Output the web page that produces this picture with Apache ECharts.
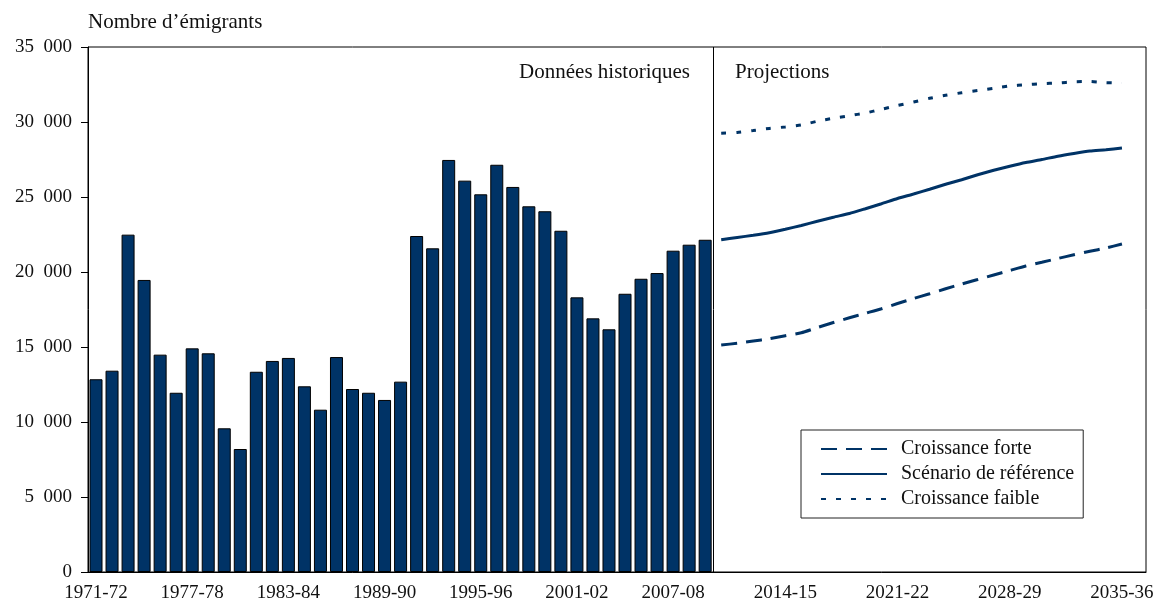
<!DOCTYPE html>
<html>
<head>
<meta charset="utf-8">
<script src="https://cdn.jsdelivr.net/npm/echarts@6/dist/echarts.min.js"></script>
<style>
  html, body { margin: 0; padding: 0; background: #fff; }
  #chart { width: 1159px; height: 609px; }
</style>
</head>
<body>
<div id="chart"></div>
<script>
// années : 1971-72 ... 2036-37
const years = [];
for (let y = 1971; y <= 2036; y++) {
  years.push(y + '-' + String((y + 1) % 100).padStart(2, '0'));
}
const shownLabels = ['1971-72', '1977-78', '1983-84', '1989-90', '1995-96', '2001-02',
  '2007-08', '2014-15', '2021-22', '2028-29', '2035-36'];

// données historiques 1971-72 à 2009-10
const historique = [12850, 13420, 22490, 19470, 14490, 11950, 14910, 14580, 9580, 8200,
  13350, 14070, 14270, 12380, 10820, 14330, 12200, 11950, 11470, 12690,
  22400, 21580, 27470, 26090, 25180, 27150, 25670, 24380, 24050, 22750,
  18310, 16910, 16180, 18550, 19550, 19930, 21420, 21820, 22150];

// projections 2010-11 à 2035-36
const forte = [15130, 15250, 15400, 15550, 15750, 15950, 16300, 16630, 16950, 17250,
  17550, 17900, 18230, 18550, 18880, 19200, 19500, 19800, 20100, 20400,
  20650, 20900, 21150, 21380, 21600, 21870];
const reference = [22150, 22300, 22450, 22620, 22850, 23100, 23380, 23650, 23900, 24220,
  24550, 24900, 25200, 25520, 25850, 26150, 26480, 26780, 27050, 27300,
  27500, 27720, 27900, 28060, 28150, 28270];
const faible = [29250, 29300, 29430, 29570, 29670, 29800, 30050, 30250, 30420, 30600,
  30850, 31100, 31330, 31580, 31780, 31950, 32100, 32250, 32400, 32480,
  32560, 32600, 32680, 32700, 32620, 32600];

const navy = '#003366';
const serif = '"Liberation Serif", "DejaVu Serif", serif';

const debut = historique.length; // premier indice des projections
const pad = arr => years.map((_, i) => (i >= debut && i - debut < arr.length) ? arr[i - debut] : null);

const chart = echarts.init(document.getElementById('chart'));

chart.setOption({
  backgroundColor: '#fff',
  animation: false,
  textStyle: { fontFamily: serif },
  grid: {
    left: 88, right: 13, top: 47, bottom: 37,
    show: true, borderColor: '#000', borderWidth: 1
  },
  legend: {
    data: ['Croissance forte', 'Scénario de référence', 'Croissance faible'],
    orient: 'vertical',
    left: 801, top: 430,
    padding: [9, 9, 9, 19],
    itemGap: 5,
    itemWidth: 66,
    itemHeight: 14,
    borderColor: '#222',
    borderWidth: 1,
    itemStyle: { opacity: 0 }, // pas de symbole dans la légende
    textStyle: { fontFamily: serif, fontSize: 20, color: '#111', padding: [0, 0, 0, 9] }
  },
  xAxis: {
    type: 'category',
    data: years,
    boundaryGap: true,
    axisLine: { lineStyle: { color: '#000', width: 1 } },
    axisTick: { interval: 0, length: 5, lineStyle: { color: '#000' } },
    axisLabel: {
      interval: (i, v) => shownLabels.includes(v),
      margin: 12,
      fontFamily: serif, fontSize: 19, color: '#111'
    },
    splitLine: { show: false }
  },
  yAxis: {
    type: 'value',
    min: 0, max: 35000, interval: 5000,
    name: 'Nombre d’émigrants',
    nameLocation: 'end',
    nameGap: 14,
    nameTextStyle: { fontFamily: serif, fontSize: 21, color: '#111', align: 'left' },
    axisLine: { show: true, lineStyle: { color: '#000', width: 1 } },
    axisTick: { show: true, length: 7, lineStyle: { color: '#000' } },
    axisLabel: {
      margin: 16,
      fontFamily: serif, fontSize: 19, color: '#111',
      formatter: v => String(v).replace(/\B(?=(\d{3})+(?!\d))/g, '\u2002')
    },
    splitLine: { show: false }
  },
  graphic: [
    {
      id: 'txtHist', type: 'text', x: 690, y: 72,
      style: { text: 'Données historiques', font: '21px ' + serif, fill: '#111', textAlign: 'right', textVerticalAlign: 'middle' }
    },
    {
      id: 'txtProj', type: 'text', x: 735, y: 72,
      style: { text: 'Projections', font: '21px ' + serif, fill: '#111', textAlign: 'left', textVerticalAlign: 'middle' }
    }
  ],
  series: [
    {
      name: 'Données historiques',
      type: 'bar',
      data: historique,
      barWidth: 13,
      itemStyle: { color: navy, borderColor: '#000', borderWidth: 1 }
    },
    {
      name: 'Croissance forte',
      type: 'line',
      data: pad(forte),
      symbol: 'none',
      smooth: 0.2,
      lineStyle: { color: navy, width: 3, type: [16, 9] },
      itemStyle: { color: navy }
    },
    {
      name: 'Scénario de référence',
      type: 'line',
      data: pad(reference),
      symbol: 'none',
      smooth: 0.2,
      lineStyle: { color: navy, width: 3 },
      itemStyle: { color: navy }
    },
    {
      name: 'Croissance faible',
      type: 'line',
      data: pad(faible),
      symbol: 'none',
      smooth: 0.2,
      lineStyle: { color: navy, width: 3, type: [5, 10] },
      itemStyle: { color: navy }
    }
  ]
});

// séparation historique / projections, placée avec les échelles du graphique
const xa = chart.convertToPixel({ xAxisIndex: 0 }, debut - 1);
const xb = chart.convertToPixel({ xAxisIndex: 0 }, debut);
const xSep = Math.round((xa + xb) / 2) + 0.5;
const yTop = chart.convertToPixel({ yAxisIndex: 0 }, 35000);
const yBas = chart.convertToPixel({ yAxisIndex: 0 }, 0);
chart.setOption({
  graphic: [{
    id: 'sep', type: 'line', z: 10,
    shape: { x1: xSep, y1: yTop, x2: xSep, y2: yBas },
    style: { stroke: '#000', lineWidth: 1 }
  }]
});
</script>
</body>
</html>
